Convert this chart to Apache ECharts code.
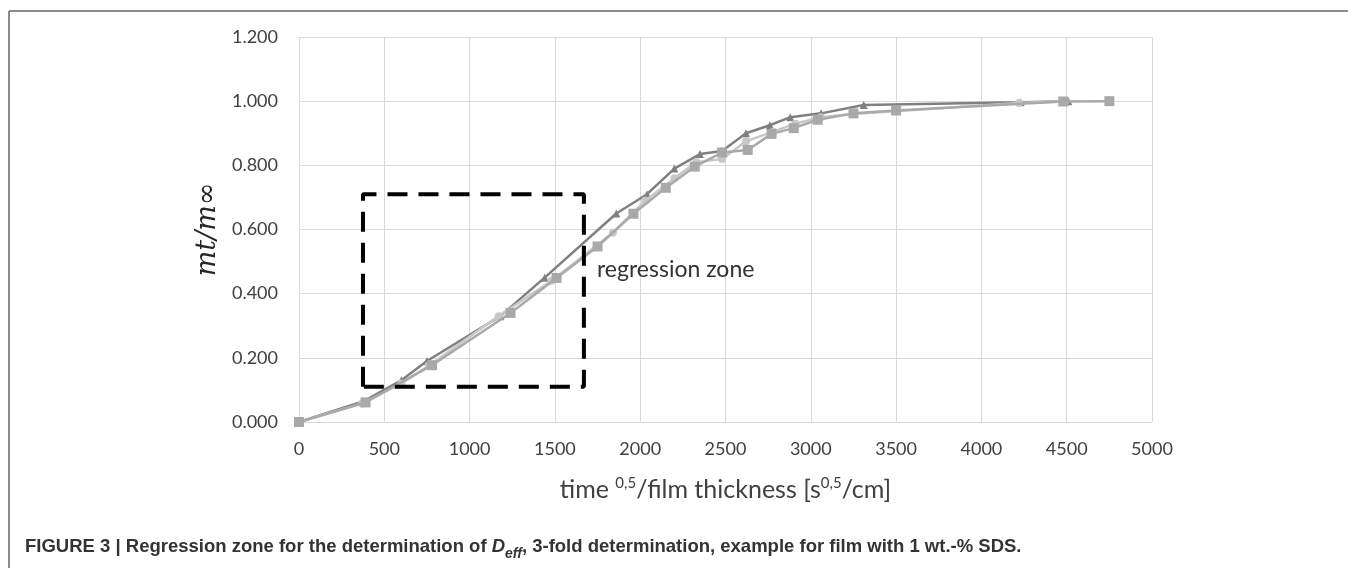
<!DOCTYPE html>
<html><head><meta charset="utf-8">
<script src="https://cdn.jsdelivr.net/npm/echarts@6/dist/echarts.min.js"></script>
<style>html,body{margin:0;padding:0;background:#fff}#c{width:1348px;height:568px}</style>
</head><body><div id="c"></div>
<script>
// Series A (dark, triangles)
const xA = [0, 380, 600, 750, 1180, 1440, 1860, 2040, 2200, 2350, 2480, 2620, 2760, 2880, 3060, 3310, 4230, 4510];
const yA = [0, 0.065, 0.13, 0.19, 0.33, 0.45, 0.65, 0.71, 0.79, 0.835, 0.845, 0.90, 0.925, 0.95, 0.962, 0.988, 0.997, 1.0];
// Series B (light, round)
const xB = [0, 370, 600, 760, 1170, 1480, 1840, 2030, 2200, 2330, 2480, 2620, 2780, 2910, 3060, 3250, 4220, 4490];
const yB = [0, 0.058, 0.12, 0.175, 0.33, 0.44, 0.59, 0.69, 0.76, 0.81, 0.82, 0.875, 0.905, 0.93, 0.95, 0.96, 0.994, 1.0];
// Series C (medium, squares)
const xC = [0, 390, 780, 1240, 1510, 1750, 1960, 2150, 2320, 2480, 2630, 2770, 2900, 3040, 3250, 3500, 4480, 4750];
const yC = [0, 0.061, 0.177, 0.34, 0.449, 0.547, 0.649, 0.73, 0.796, 0.84, 0.848, 0.898, 0.916, 0.942, 0.962, 0.971, 0.999, 1.0];
// Regression zone rectangle (data coords)
const zoneX = [375, 375, 1670, 1670, 375];
const zoneY = [0.11, 0.71, 0.71, 0.11, 0.11];
const zoneLabel = 'regression zone';
const zoneLabelPos = [1717, 0.474];
// Axes
const xMin = 0, xMax = 5000, xStep = 500;
const yMin = 0, yMax = 1.2, yStep = 0.2;

const zip = (xs, ys) => xs.map((x, i) => [x, ys[i]]);
const chart = echarts.init(document.getElementById('c'));
const lblFont = 'Lato, "Open Sans", sans-serif';
const capFont = '"Liberation Sans", Arial, sans-serif';
chart.setOption({
  animation: false,
  grid: { left: 299, right: 196, top: 37, bottom: 146 },
  xAxis: {
    type: 'value', min: xMin, max: xMax, interval: xStep,
    axisLine: { show: true, lineStyle: { color: '#d9d9d9', width: 1 } },
    axisTick: { show: false },
    splitLine: { show: true, lineStyle: { color: '#d9d9d9', width: 1 } },
    axisLabel: { color: '#404040', fontSize: 18, fontFamily: lblFont, margin: 18, formatter: v => String(v) },
    name: '{a|time }{s|0,5}{a|/film thickness [s}{s|0,5}{a|/cm]}',
    nameLocation: 'middle', nameGap: 50,
    nameTextStyle: {
      rich: {
        a: { fontSize: 25, color: '#404040', fontFamily: lblFont, verticalAlign: 'bottom', lineHeight: 30 },
        s: { fontSize: 15, color: '#404040', fontFamily: lblFont, verticalAlign: 'bottom', lineHeight: 30, padding: [0, 0, 11, 0] }
      }
    }
  },
  yAxis: {
    type: 'value', min: yMin, max: yMax, interval: yStep,
    axisLine: { show: false },
    axisTick: { show: false },
    splitLine: { show: true, lineStyle: { color: '#d9d9d9', width: 1 } },
    axisLabel: { color: '#404040', fontSize: 18, fontFamily: lblFont, margin: 21, formatter: v => v.toFixed(3) },
    name: 'mt/m∞', nameLocation: 'middle', nameGap: 76, nameRotate: 90,
    nameTextStyle: { fontSize: 27, fontStyle: 'italic', fontFamily: '"DejaVu Serif", serif', color: '#262626' }
  },
  series: [
    { type: 'line', data: zip(xA, yA), symbol: 'triangle', symbolSize: 8,
      lineStyle: { color: '#808080', width: 2.5 }, itemStyle: { color: '#808080' }, z: 3 },
    { type: 'line', data: zip(xB, yB), symbol: 'circle', symbolSize: 8,
      lineStyle: { color: '#c8c8c8', width: 2.5 }, itemStyle: { color: '#c8c8c8' }, z: 4 },
    { type: 'line', data: zip(xC, yC), symbol: 'rect', symbolSize: 10,
      lineStyle: { color: '#a9a9a9', width: 2.5 }, itemStyle: { color: '#a9a9a9' }, z: 5 },
    { type: 'line', data: zip(zoneX, zoneY), symbol: 'none', z: 6,
      lineStyle: { color: '#000', width: 4, type: [20, 11] },
      markPoint: {
        symbol: 'circle', symbolSize: 0,
        data: [{ coord: zoneLabelPos }],
        label: { show: true, position: 'right', formatter: zoneLabel, color: '#333', fontSize: 23, fontFamily: lblFont }
      }
    }
  ],
  graphic: [
    { type: 'line', shape: { x1: 9, y1: 11, x2: 1348, y2: 11 }, style: { stroke: '#666', lineWidth: 1.5 } },
    { type: 'line', shape: { x1: 9, y1: 11, x2: 9, y2: 568 }, style: { stroke: '#666', lineWidth: 1.5 } },
    { type: 'text', left: 25, top: 537,
      style: {
        text: '{b|FIGURE 3 | Regression zone for the determination of }{i|D}{sub|eff}{b|, 3-fold determination, example for film with 1 wt.-% SDS.}',
        rich: {
          b: { fontSize: 18.5, fontWeight: 'bold', fontFamily: capFont, fill: '#333', lineHeight: 24, verticalAlign: 'bottom' },
          i: { fontSize: 18.5, fontWeight: 'bold', fontStyle: 'italic', fontFamily: capFont, fill: '#333', lineHeight: 24, verticalAlign: 'bottom' },
          sub: { fontSize: 14, fontWeight: 'bold', fontStyle: 'italic', fontFamily: capFont, fill: '#333', lineHeight: 24, verticalAlign: 'bottom', padding: [0, 0, -5, 0] }
        }
      }
    }
  ]
});
</script></body></html>
